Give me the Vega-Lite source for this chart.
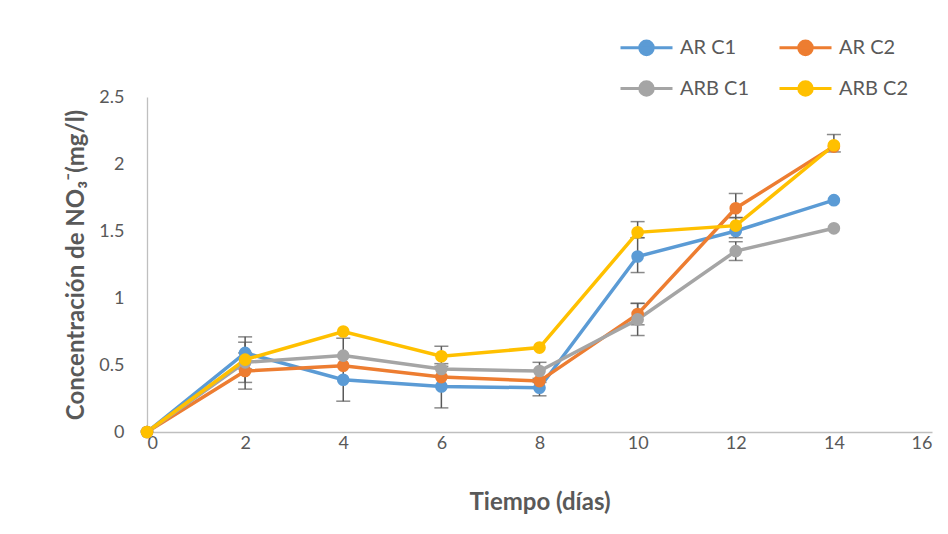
{
  "$schema": "https://vega.github.io/schema/vega-lite/v6.json",
  "width": 785,
  "height": 335,
  "autosize": {"type": "none"},
  "padding": {"left": 147, "top": 97, "right": 16, "bottom": 102},
  "background": "white",
  "config": {"view": {"stroke": null}, "font": "Lato"},
  "datasets": {
    "series": [
      {"dia": 0, "serie": "AR C1", "no3": 0},
      {"dia": 2, "serie": "AR C1", "no3": 0.59},
      {"dia": 4, "serie": "AR C1", "no3": 0.39},
      {"dia": 6, "serie": "AR C1", "no3": 0.34},
      {"dia": 8, "serie": "AR C1", "no3": 0.33},
      {"dia": 10, "serie": "AR C1", "no3": 1.31},
      {"dia": 12, "serie": "AR C1", "no3": 1.5},
      {"dia": 14, "serie": "AR C1", "no3": 1.73},
      {"dia": 0, "serie": "AR C2", "no3": 0},
      {"dia": 2, "serie": "AR C2", "no3": 0.455},
      {"dia": 4, "serie": "AR C2", "no3": 0.495},
      {"dia": 6, "serie": "AR C2", "no3": 0.41},
      {"dia": 8, "serie": "AR C2", "no3": 0.38},
      {"dia": 10, "serie": "AR C2", "no3": 0.88},
      {"dia": 12, "serie": "AR C2", "no3": 1.67},
      {"dia": 14, "serie": "AR C2", "no3": 2.13},
      {"dia": 0, "serie": "ARB C1", "no3": 0},
      {"dia": 2, "serie": "ARB C1", "no3": 0.52},
      {"dia": 4, "serie": "ARB C1", "no3": 0.57},
      {"dia": 6, "serie": "ARB C1", "no3": 0.47},
      {"dia": 8, "serie": "ARB C1", "no3": 0.455},
      {"dia": 10, "serie": "ARB C1", "no3": 0.84},
      {"dia": 12, "serie": "ARB C1", "no3": 1.35},
      {"dia": 14, "serie": "ARB C1", "no3": 1.52},
      {"dia": 0, "serie": "ARB C2", "no3": 0},
      {"dia": 2, "serie": "ARB C2", "no3": 0.54},
      {"dia": 4, "serie": "ARB C2", "no3": 0.75},
      {"dia": 6, "serie": "ARB C2", "no3": 0.565},
      {"dia": 8, "serie": "ARB C2", "no3": 0.63},
      {"dia": 10, "serie": "ARB C2", "no3": 1.49},
      {"dia": 12, "serie": "ARB C2", "no3": 1.54},
      {"dia": 14, "serie": "ARB C2", "no3": 2.14}
    ],
    "errores": [
      {"dia": 2, "serie": "AR C1", "min": 0.47, "max": 0.71},
      {"dia": 2, "serie": "AR C2", "min": 0.32, "max": 0.59},
      {"dia": 2, "serie": "ARB C1", "min": 0.37, "max": 0.67},
      {"dia": 4, "serie": "AR C1", "min": 0.23, "max": 0.7},
      {"dia": 6, "serie": "AR C1", "min": 0.18, "max": 0.49},
      {"dia": 6, "serie": "ARB C2", "min": 0.51, "max": 0.64},
      {"dia": 8, "serie": "ARB C1", "min": 0.4, "max": 0.52},
      {"dia": 8, "serie": "AR C1", "min": 0.27, "max": 0.37},
      {"dia": 10, "serie": "ARB C2", "min": 1.45, "max": 1.57},
      {"dia": 10, "serie": "AR C1", "min": 1.19, "max": 1.45},
      {"dia": 10, "serie": "AR C2", "min": 0.8, "max": 0.96},
      {"dia": 10, "serie": "ARB C1", "min": 0.72, "max": 0.96},
      {"dia": 12, "serie": "AR C2", "min": 1.6, "max": 1.78},
      {"dia": 12, "serie": "ARB C2", "min": 1.45, "max": 1.6},
      {"dia": 12, "serie": "ARB C1", "min": 1.28, "max": 1.42},
      {"dia": 14, "serie": "ARB C2", "min": 2.09, "max": 2.22}
    ]
  },
  "encoding": {
    "x": {
      "field": "dia",
      "type": "quantitative",
      "scale": {"domain": [0, 16], "nice": false, "zero": false},
      "axis": {
        "values": [0, 2, 4, 6, 8, 10, 12, 14, 16],
        "grid": false,
        "ticks": false,
        "domainColor": "#bfbfbf",
        "domainWidth": 1.3,
        "labelColor": "#595959",
        "labelFontSize": 18,
        "labelPadding": 2,
        "title": "Tiempo (días)",
        "titleFontSize": 24,
        "titleFontWeight": "bold",
        "titleColor": "#595959",
        "titlePadding": 38
      }
    },
    "y": {
      "field": "no3",
      "type": "quantitative",
      "scale": {"domain": [0, 2.5], "nice": false},
      "axis": {
        "values": [0, 0.5, 1, 1.5, 2, 2.5],
        "format": "~g",
        "grid": false,
        "ticks": false,
        "domainColor": "#bfbfbf",
        "domainWidth": 1.3,
        "labelColor": "#595959",
        "labelFontSize": 18,
        "labelPadding": 23,
        "title": "Concentración de NO₃⁻(mg/l)",
        "titleFontSize": 24,
        "titleFontWeight": "bold",
        "titleColor": "#595959",
        "titlePadding": 10
      }
    }
  },
  "layer": [
    {
      "data": {"name": "errores"},
      "mark": {"type": "rule", "color": "#595959", "strokeWidth": 1.5},
      "encoding": {
        "y": {"field": "min", "type": "quantitative"},
        "y2": {"field": "max"}
      }
    },
    {
      "data": {"name": "errores"},
      "mark": {"type": "tick", "orient": "horizontal", "color": "#595959", "size": 14, "thickness": 1.5},
      "encoding": {"y": {"field": "min", "type": "quantitative"}}
    },
    {
      "data": {"name": "errores"},
      "mark": {"type": "tick", "orient": "horizontal", "color": "#595959", "size": 14, "thickness": 1.5},
      "encoding": {"y": {"field": "max", "type": "quantitative"}}
    },
    {
      "data": {"name": "series"},
      "mark": {"type": "line", "strokeWidth": 3.5},
      "encoding": {
        "color": {
          "field": "serie",
          "type": "nominal",
          "scale": {
            "domain": ["AR C1", "AR C2", "ARB C1", "ARB C2"],
            "range": ["#5b9bd5", "#ed7d31", "#a5a5a5", "#ffc000"]
          },
          "legend": {
            "orient": "none",
            "direction": "horizontal",
            "legendX": 472,
            "legendY": -77,
            "columns": 2,
            "title": null,
            "symbolType": "M-1,0H1M-0.26,0A0.26,0.26 0 1,0 0.26,0A0.26,0.26 0 1,0 -0.26,0Z",
            "symbolSize": 2704,
            "symbolStrokeWidth": 3,
            "labelFontSize": 20,
            "labelColor": "#595959",
            "labelOffset": 6,
            "columnPadding": 23,
            "rowPadding": -18,
            "encode": {
              "symbols": {
                "update": {
                  "fill": {"scale": "color", "field": "value"},
                  "stroke": {"scale": "color", "field": "value"},
                  "opacity": {"value": 1}
                }
              }
            }
          }
        }
      }
    },
    {
      "data": {"name": "series"},
      "mark": {"type": "point", "filled": true, "opacity": 1, "size": 160},
      "encoding": {
        "color": {"field": "serie", "type": "nominal"}
      }
    }
  ]
}
